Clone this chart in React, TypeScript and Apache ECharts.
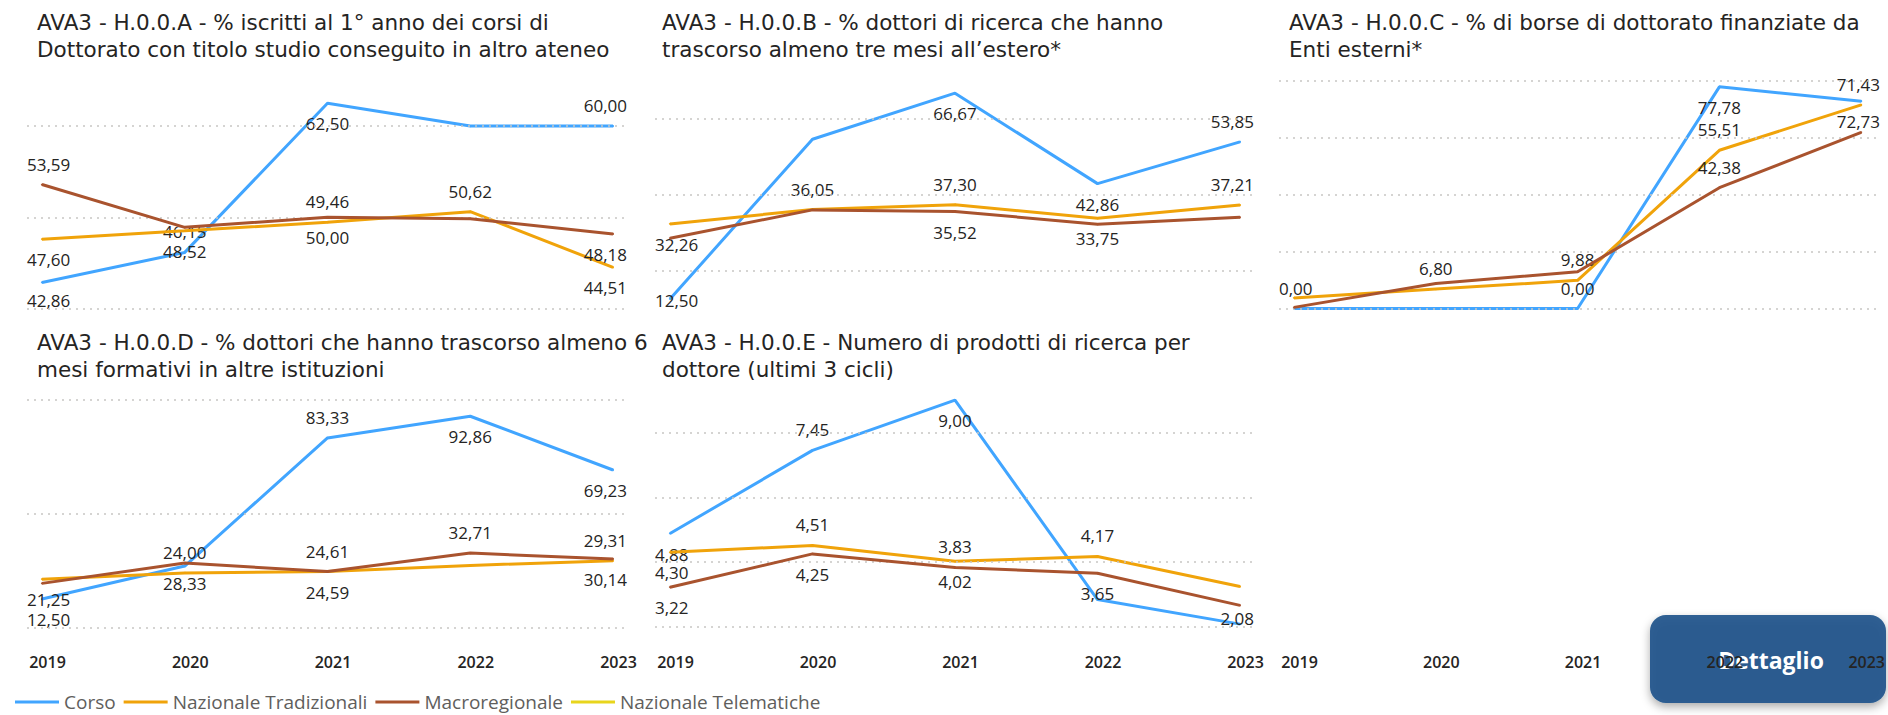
import React, { useEffect, useRef } from "react";
import * as echarts from "echarts";

const years = ["2019", "2020", "2021", "2022", "2023"];
const seriesNames = ["Corso", "Nazionale Tradizionali", "Macroregionale", "Nazionale Telematiche"];

const titleA = "AVA3 - H.0.0.A - % iscritti al 1° anno dei corsi di\nDottorato con titolo studio conseguito in altro ateneo";
const titleB = "AVA3 - H.0.0.B - % dottori di ricerca che hanno\ntrascorso almeno tre mesi all’estero*";
const titleC = "AVA3 - H.0.0.C - % di borse di dottorato finanziate da\nEnti esterni*";
const titleD = "AVA3 - H.0.0.D - % dottori che hanno trascorso almeno 6\nmesi formativi in altre istituzioni";
const titleE = "AVA3 - H.0.0.E - Numero di prodotti di ricerca per\ndottore (ultimi 3 cicli)";

// Panel A
const corsoA = [42.86, 46.15, 62.5, 60.0, 60.0];
const nazTradA = [47.6, 48.52, 49.46, 50.62, 44.51];
const macroA = [53.59, 48.9, 50.0, 49.85, 48.18];
const ticksA = [40, 50, 60];
// Panel B
const corsoB = [12.5, 54.55, 66.67, 42.86, 53.85];
const nazTradB = [32.26, 36.05, 37.3, 33.75, 37.21];
const macroB = [28.5, 35.95, 35.52, 32.2, 34.0];
const ticksB = [20, 40, 60];
// Panel C
const corsoC = [0, 0, 0, 77.78, 72.73];
const nazTradC = [3.7, 6.8, 9.88, 55.51, 71.43];
const macroC = [0.4, 8.8, 12.9, 42.38, 61.8];
const ticksC = [0, 20, 40, 60, 80];
// Panel D
const corsoD = [12.5, 27.0, 83.33, 92.86, 69.23];
const nazTradD = [21.25, 24.0, 24.61, 27.3, 29.31];
const macroD = [19.4, 28.33, 24.59, 32.71, 30.14];
const ticksD = [0, 50, 100];
// Panel E
const corsoE = [4.88, 7.45, 9.0, 2.84, 2.08];
const nazTradE = [4.3, 4.51, 4.02, 4.17, 3.24];
const macroE = [3.22, 4.25, 3.83, 3.65, 2.66];
const ticksE = [2, 4, 6, 8];

const telematiche = [null, null, null, null, null];

// data label placement: t = above, b = below, "" = hidden
const labelsA = [["b", "t", "b", "", "t"], ["b", "b", "t", "t", "b"], ["t", "", "b", "", "b"]];
const labelsB = [["b", "", "b", "b", "t"], ["b", "t", "t", "b", "t"], ["", "", "b", "", ""]];
const labelsC = [["t", "", "t", "b", "b"], ["", "t", "t", "t", "t"], ["", "", "", "t", ""]];
const labelsD = [["b", "", "t", "b", "b"], ["b", "t", "t", "", "t"], ["", "b", "b", "t", "b"]];
const labelsE = [["b", "t", "b", "", "b"], ["b", "t", "b", "t", ""], ["b", "b", "t", "b", ""]];

const FONT = "'Segoe UI', 'Open Sans', sans-serif";
const TITLE_FONT = "'DejaVu Sans', 'Open Sans', sans-serif";
const COLORS = ["#41A5FF", "#F0A30A", "#A9532E", "#E8D51C"];

export default function App() {
  const ref = useRef<HTMLDivElement>(null);

  useEffect(() => {
    document.body.style.margin = "0";
    const chart = echarts.init(ref.current!, null, { renderer: "svg" });

    const panels = [
      { title: titleA, values: [corsoA, nazTradA, macroA], labels: labelsA, ticks: ticksA,
        left: 42, top: 80.5, width: 571, height: 228, min: 40, max: 65, tLeft: 37, tTop: 9, showX: false },
      { title: titleB, values: [corsoB, nazTradB, macroB], labels: labelsB, ticks: ticksB,
        left: 670, top: 80.5, width: 570, height: 228, min: 10, max: 70, tLeft: 662, tTop: 9, showX: false },
      { title: titleC, values: [corsoC, nazTradC, macroC], labels: labelsC, ticks: ticksC,
        left: 1294, top: 80.5, width: 572, height: 228, min: 0, max: 80, tLeft: 1289, tTop: 9, showX: true },
      { title: titleD, values: [corsoD, nazTradD, macroD], labels: labelsD, ticks: ticksD,
        left: 42, top: 400, width: 571, height: 227.5, min: 0, max: 100, tLeft: 37, tTop: 329, showX: true },
      { title: titleE, values: [corsoE, nazTradE, macroE], labels: labelsE, ticks: ticksE,
        left: 670, top: 384, width: 570, height: 242.7, min: 2, max: 9.5, tLeft: 662, tTop: 329, showX: true },
    ];

    const posMap: Record<string, string> = { t: "top", b: "bottom" };
    const fmt = (v: number) => Number(v).toFixed(2).replace(".", ",");

    const series: any[] = [];
    panels.forEach((p, pi) => {
      const lo = p.left - 15;
      const hi = p.left + p.width + 14;
      const bottom = p.top + p.height;
      p.values.forEach((vals, si) => {
        const s: any = {
          type: "line",
          name: seriesNames[si],
          xAxisIndex: pi,
          yAxisIndex: pi,
          symbol: "circle",
          symbolSize: 2,
          showSymbol: true,
          clip: false,
          z: 3 + si,
          lineStyle: { width: 3, color: COLORS[si] },
          itemStyle: { color: COLORS[si] },
          emphasis: { disabled: true },
          label: {
            show: false,
            formatter: (prm: any) => fmt(prm.value),
            fontSize: 17,
            color: "#252423",
            fontFamily: FONT,
            distance: 11,
          },
          labelLayout: (prm: any) => {
            const r = prm.labelRect;
            let dx = 0;
            let dy = 0;
            if (r.x < lo) dx = lo - r.x;
            else if (r.x + r.width > hi) dx = hi - (r.x + r.width);
            if (r.y + r.height > bottom) dy = bottom - (r.y + r.height);
            return { dx, dy };
          },
          data: vals.map((v, i) => {
            const pos = p.labels[si][i];
            return {
              value: v,
              label: pos ? { show: true, position: posMap[pos] } : { show: false },
            };
          }),
        };
        if (si === 0) {
          s.markLine = {
            silent: true,
            symbol: ["none", "none"],
            label: { show: false },
            emphasis: { disabled: true },
            lineStyle: { color: "#C8C6C4", type: [2, 5], width: 1.5 },
            data: p.ticks.map((t) => [
              { x: lo, yAxis: t },
              { x: hi - 2, yAxis: t },
            ]),
          };
        }
        series.push(s);
      });
    });
    series.push({
      type: "line",
      name: seriesNames[3],
      xAxisIndex: 0,
      yAxisIndex: 0,
      showSymbol: false,
      lineStyle: { width: 3, color: COLORS[3] },
      itemStyle: { color: COLORS[3] },
      data: telematiche,
    });

    const option: any = {
      animation: false,
      backgroundColor: "#ffffff",
      title: panels.map((p) => ({
        text: p.title,
        left: p.tLeft,
        top: p.tTop,
        padding: 0,
        textStyle: { fontSize: 21.5, fontWeight: "normal", color: "#252423", lineHeight: 27, fontFamily: TITLE_FONT },
      })),
      legend: {
        data: seriesNames,
        left: 10,
        top: 687,
        icon: "rect",
        itemWidth: 44,
        itemHeight: 3,
        itemGap: 8,
        selectedMode: false,
        textStyle: { fontSize: 19, lineHeight: 20, color: "#605E5C", fontFamily: FONT },
      },
      grid: panels.map((p) => ({ left: p.left, top: p.top, width: p.width, height: p.height, containLabel: false })),
      xAxis: panels.map((p, i) => ({
        type: "category",
        gridIndex: i,
        data: years,
        boundaryGap: false,
        axisLine: { show: false },
        axisTick: { show: false },
        splitLine: { show: false },
        axisLabel: {
          show: p.showX,
          margin: 662 - 8 - (p.top + p.height),
          fontSize: 16,
          fontWeight: 600,
          color: "#252423",
          fontFamily: FONT,
          padding: [0, 0, 0, 11],
        },
      })),
      yAxis: panels.map((p, i) => ({
        type: "value",
        gridIndex: i,
        min: p.min,
        max: p.max,
        show: false,
        splitLine: { show: false },
      })),
      series,
      graphic: [
        {
          type: "group",
          z: 100,
          children: [
            {
              type: "rect",
              shape: { x: 1650, y: 615, width: 236, height: 88, r: 16 },
              style: {
                fill: "#21568C",
                opacity: 0.94,
                shadowBlur: 10,
                shadowOffsetY: 4,
                shadowColor: "rgba(0,0,0,0.35)",
              },
            },
            {
              type: "text",
              x: 1771,
              y: 660,
              style: {
                text: "Dettaglio",
                fill: "#ffffff",
                font: "bold 23px 'Segoe UI', 'Open Sans', sans-serif",
                align: "center",
                verticalAlign: "middle",
              },
            },
          ],
        },
      ],
    };

    chart.setOption(option);
    return () => chart.dispose();
  }, []);

  return (
    <div
      ref={ref}
      style={{ position: "absolute", left: 0, top: 0, width: 1888, height: 715, background: "#fff" }}
    />
  );
}
